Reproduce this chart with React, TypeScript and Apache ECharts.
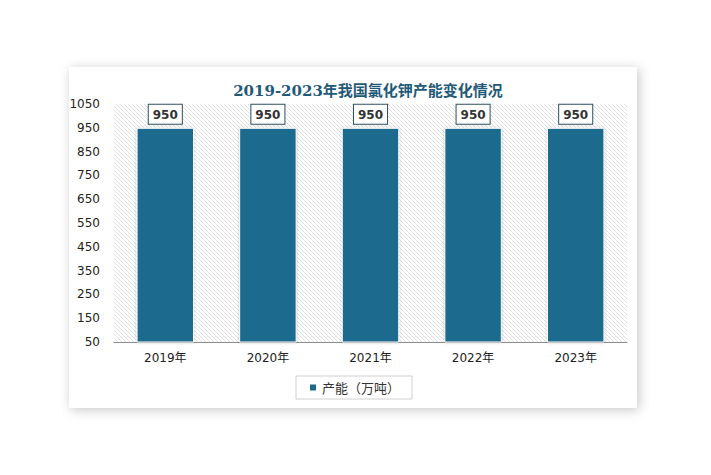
import React, { useEffect, useRef } from "react";
import * as echarts from "echarts";

const categories = ["2019年", "2020年", "2021年", "2022年", "2023年"];
const capacity = [950, 950, 950, 950, 950];
const seriesName = "产能（万吨）";
const titleText = "2019-2023年我国氯化钾产能变化情况";

function makeHatch(): string {
  const c = document.createElement("canvas");
  c.width = 8;
  c.height = 8;
  const ctx = c.getContext("2d");
  if (ctx) {
    ctx.fillStyle = "#ffffff";
    ctx.fillRect(0, 0, 8, 8);
    ctx.strokeStyle = "#e0e0e0";
    ctx.lineWidth = 1;
    for (let i = -8; i <= 16; i += 4) {
      ctx.beginPath();
      ctx.moveTo(i, 0);
      ctx.lineTo(i + 8, 8);
      ctx.stroke();
    }
  }
  return c.toDataURL();
}

export default function App() {
  const ref = useRef<HTMLDivElement>(null);
  useEffect(() => {
    if (!ref.current) return;
    const chart = echarts.init(ref.current, undefined, { renderer: "svg" });
    const hatch = makeHatch();
    chart.setOption({
      animation: false,
      backgroundColor: "#ffffff",
      graphic: [
        {
          type: "rect",
          z: -10,
          silent: true,
          shape: { x: 69, y: 67, width: 568, height: 341 },
          style: {
            fill: "#ffffff",
            shadowBlur: 12,
            shadowColor: "rgba(0,0,0,0.22)",
            shadowOffsetX: 2,
            shadowOffsetY: 2,
          },
        },
      ],
      title: {
        text: titleText,
        left: 363,
        textAlign: "center",
        top: 78,
        textStyle: {
          fontSize: 15,
          fontWeight: "bold",
          color: "#1f5a78",
          fontFamily: "'DejaVu Serif', 'Noto Sans CJK SC', serif",
        },
      },
      grid: {
        left: 114,
        right: 84,
        top: 104,
        bottom: 133,
        show: true,
        borderWidth: 0,
        backgroundColor: { image: hatch, repeat: "repeat" },
      },
      legend: {
        data: [seriesName],
        left: 296,
        top: 376,
        icon: "rect",
        itemWidth: 8,
        itemHeight: 8,
        itemGap: 6,
        borderColor: "#d0d0d0",
        borderWidth: 1,
        padding: [5, 12],
        textStyle: {
          fontSize: 13,
          color: "#333",
          fontFamily: "'Noto Sans CJK SC', sans-serif",
        },
      },
      xAxis: {
        type: "category",
        data: categories,
        axisLine: { lineStyle: { color: "#8c8c8c", width: 1 } },
        axisTick: { show: false },
        axisLabel: {
          color: "#222",
          fontSize: 12,
          margin: 10,
          fontFamily: "'DejaVu Sans', 'Noto Sans CJK SC', sans-serif",
        },
      },
      yAxis: {
        type: "value",
        min: 50,
        max: 1050,
        interval: 100,
        splitLine: { show: false },
        axisLine: { show: false },
        axisTick: { show: false },
        axisLabel: {
          color: "#222",
          fontSize: 12,
          margin: 14,
          formatter: (v: number) => String(v),
          fontFamily: "'DejaVu Sans', sans-serif",
        },
      },
      series: [
        {
          name: seriesName,
          type: "bar",
          data: capacity,
          barWidth: "56%",
          itemStyle: {
            color: "#1b6a8d",
            borderColor: "#ffffff",
            borderWidth: 1,
            shadowBlur: 3,
            shadowColor: "rgba(0,0,0,0.25)",
          },
          label: {
            show: true,
            position: "top",
            distance: 4,
            color: "#333",
            fontSize: 12,
            fontWeight: "bold",
            fontFamily: "'DejaVu Sans', sans-serif",
            backgroundColor: "#ffffff",
            borderColor: "#2f4f5f",
            borderWidth: 1,
            padding: [4, 4, 3, 4],
          },
        },
      ],
    });
    return () => chart.dispose();
  }, []);
  return (
    <div
      ref={ref}
      style={{ position: "fixed", left: 0, top: 0, width: 711, height: 475 }}
    />
  );
}
